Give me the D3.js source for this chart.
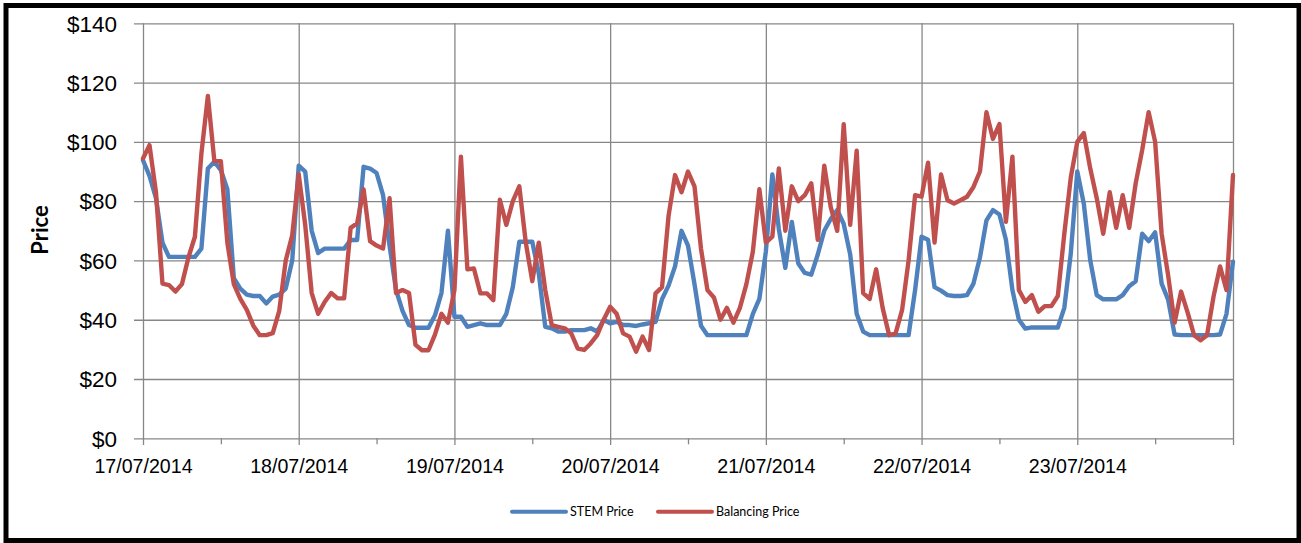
<!DOCTYPE html>
<html>
<head>
<meta charset="utf-8">
<script src="https://cdn.jsdelivr.net/npm/d3@7"></script>
<style>
  body { margin: 0; background: #fff; }
  svg { display: block; font-family: Lato, "DejaVu Sans", sans-serif; }
</style>
</head>
<body>
<div id="chart"></div>
<script>
// hourly prices from 17/07/2014 00:00 to 24/07/2014 00:00
const START = Date.UTC(2014, 6, 17);
const HOUR = 3600 * 1000;

const dayTicks = ['2014-07-17', '2014-07-18', '2014-07-19', '2014-07-20',
                  '2014-07-21', '2014-07-22', '2014-07-23', '2014-07-24'];
const yTicks = [0, 20, 40, 60, 80, 100, 120, 140];
const seriesNames = ['STEM Price', 'Balancing Price'];
const seriesColors = ['#4F81BD', '#C0504D'];

const stemPrice = [
  93.8, 88.5, 81, 66, 61.2, 61.2, 61.2, 61.2, 61.2, 64, 91, 93.3, 90.5, 84, 54, 50.5, 48.5, 48, 48, 45.5, 47.8, 48.5, 50.5, 60,
  92, 90, 70, 62.5, 64, 64, 64, 64, 66.9, 66.9, 91.6, 91, 89.5, 82, 65, 50, 43, 38.2, 37.3, 37.3, 37.3, 41.5, 49, 70,
  41, 41, 37.6, 38.2, 38.8, 38.2, 38.2, 38.2, 42, 51, 66.3, 66.3, 66.3, 55.6, 37.6, 37.1, 36, 36, 36.5, 36.5, 36.5, 37.1, 36, 39.9,
  38.8, 39.3, 38.2, 38.2, 37.9, 38.4, 38.8, 39.3, 47, 51.5, 58, 70, 65, 52, 38, 34.8, 34.8, 34.8, 34.8, 34.8, 34.8, 34.8, 42, 47,
  63, 89, 70.6, 57.5, 73, 59, 55.8, 55.2, 62, 70, 74, 77, 72.3, 62, 42, 36, 34.8, 34.8, 34.8, 34.8, 34.8, 34.8, 34.8, 50,
  68, 67, 51, 49.8, 48.3, 48, 48, 48.3, 52.2, 61, 73.5, 77, 75.5, 67, 50, 40, 37, 37.4, 37.4, 37.4, 37.4, 37.4, 44, 62.4,
  90, 79.2, 60, 48.3, 46.9, 46.9, 46.9, 48.3, 51.3, 53, 69, 66.5, 69.5, 52.2, 46.8, 35, 34.8, 34.8, 34.8, 34.8, 34.8, 34.8, 35, 42,
  59.6
];

const balancingPrice = [
  94.4, 98.9, 83, 52.2, 51.7, 49.5, 52, 61, 68, 96, 115.5, 93.5, 93.5, 66, 52, 47, 43.3, 38, 34.8, 34.8, 35.5, 43, 60, 68.5,
  89, 72, 49, 42, 46, 49, 47.2, 47.2, 71, 72.5, 84, 66.5, 65, 64, 81, 49, 50, 49, 31.5, 29.7, 29.7, 35, 42, 39,
  50, 95, 57, 57.3, 48.9, 48.9, 46.6, 80.5, 72, 80, 85, 66, 53, 66, 50, 38.2, 37.6, 37.1, 35.4, 30.3, 29.8, 32, 34.8, 40,
  44.4, 42, 35.4, 34.3, 29.2, 34.3, 29.8, 48.9, 51, 75, 88.8, 83, 90, 85, 64, 50, 47.5, 40, 44, 39, 44, 52, 63, 84,
  66, 68, 91, 70, 85, 80, 82, 86, 67, 92, 78, 70, 106, 72, 97, 49, 47, 57, 44, 34.8, 35.4, 43.3, 60, 82,
  81.5, 93, 66, 89, 80.3, 79.2, 80.3, 81.5, 84.8, 90, 110, 101, 106, 73, 95, 50, 46, 48.3, 42.7, 44.6, 44.6, 48, 69, 88,
  100, 103, 91, 81, 69, 83, 71, 82, 71, 86, 97.2, 110, 100, 69, 55, 39, 49.5, 42.5, 34.8, 33.1, 34.8, 47.8, 58, 50,
  88.8
];

const WIDTH = 1301;
const HEIGHT = 543;
const PLOT = { left: 143, right: 1233, top: 23.3, bottom: 438.3 };
const GRID_COLOR = '#878787';

const svg = d3.select('#chart')
  .append('svg')
    .attr('width', WIDTH)
    .attr('height', HEIGHT);

// outer frame
svg.append('rect')
  .attr('x', 6).attr('y', 5.5)
  .attr('width', 1293).attr('height', 535)
  .attr('fill', '#fff')
  .attr('stroke', '#000')
  .attr('stroke-width', 5);

const days = dayTicks.map(d => new Date(d + 'T00:00:00Z'));
const x = d3.scaleUtc()
  .domain([days[0], days[days.length - 1]])
  .range([PLOT.left, PLOT.right]);
const y = d3.scaleLinear()
  .domain([0, 140])
  .range([PLOT.bottom, PLOT.top]);

// horizontal gridlines + y labels (lines run from the tick stub to the right edge)
const yGuide = svg.append('g')
  .attr('transform', `translate(${PLOT.right}, 0)`)
  .call(d3.axisLeft(y)
    .tickValues(yTicks)
    .tickFormat(d => '$' + d)
    .tickSize(PLOT.right - PLOT.left + 9)
    .tickPadding(17));
yGuide.select('.domain').remove();
yGuide.selectAll('line').attr('stroke', GRID_COLOR).attr('stroke-width', 1.3);
yGuide.selectAll('text')
  .attr('dy', null)
  .attr('y', 7.8)
  .attr('fill', '#000')
  .style('font-size', '22.5px');

// vertical day gridlines + date labels
const fmt = d3.utcFormat('%d/%m/%Y');
const xGuide = svg.append('g')
  .attr('transform', `translate(0, ${PLOT.top})`)
  .call(d3.axisBottom(x)
    .tickValues(days)
    .tickFormat((d, i) => i < days.length - 1 ? fmt(d) : '')
    .tickSize(PLOT.bottom - PLOT.top + 6.7)
    .tickPadding(14.3));
xGuide.select('.domain').remove();
xGuide.selectAll('line').attr('stroke', GRID_COLOR).attr('stroke-width', 1.3);
xGuide.selectAll('text').attr('fill', '#000').style('font-size', '19.6px');

// minor ticks at midday
const middays = days.slice(0, -1).map(d => new Date(+d + 12 * HOUR));
const minor = svg.append('g')
  .attr('transform', `translate(0, ${PLOT.bottom})`)
  .call(d3.axisBottom(x).tickValues(middays).tickFormat('').tickSize(6));
minor.select('.domain').remove();
minor.selectAll('line').attr('stroke', GRID_COLOR).attr('stroke-width', 1.3);

// price lines
const line = d3.line()
  .x((d, i) => x(new Date(START + i * HOUR)))
  .y(d => y(d));

[stemPrice, balancingPrice].forEach((values, i) => {
  svg.append('path')
    .datum(values)
    .attr('fill', 'none')
    .attr('stroke', seriesColors[i])
    .attr('stroke-width', 4.4)
    .attr('stroke-linejoin', 'round')
    .attr('stroke-linecap', 'round')
    .attr('d', line);
});

// axis title
svg.append('text')
  .attr('transform', 'translate(48, 230) rotate(-90)')
  .attr('text-anchor', 'middle')
  .style('font-size', '22px')
  .style('font-weight', 'bold')
  .text('Price');

// legend
const legendX = [512, 658];
const legend = svg.append('g');
seriesNames.forEach((name, i) => {
  legend.append('line')
    .attr('x1', legendX[i]).attr('x2', legendX[i] + 54)
    .attr('y1', 511.7).attr('y2', 511.7)
    .attr('stroke', seriesColors[i])
    .attr('stroke-width', 4)
    .attr('stroke-linecap', 'round');
  legend.append('text')
    .attr('x', legendX[i] + 58)
    .attr('y', 516.3)
    .style('font-size', '12.5px')
    .text(name);
});
</script>
</body>
</html>
